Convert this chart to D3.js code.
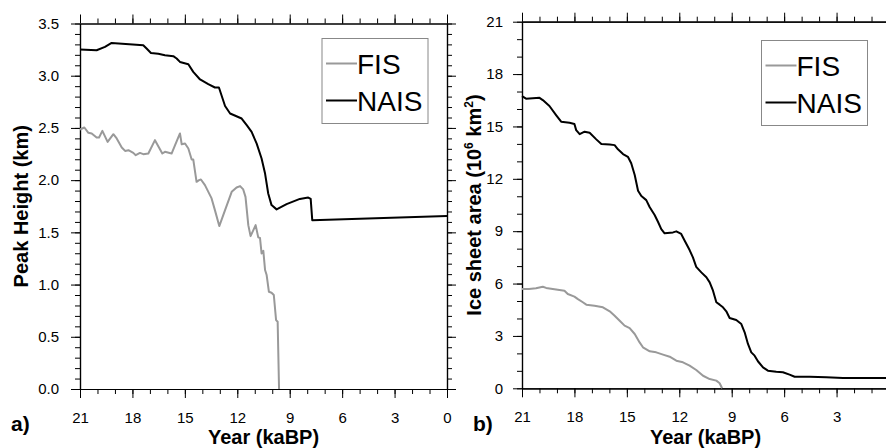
<!DOCTYPE html>
<html>
<head>
<meta charset="utf-8">
<script src="https://cdn.jsdelivr.net/npm/d3@7"></script>
<style>
  body { margin: 0; background: #fff; }
  svg { display: block; font-family: "Liberation Sans", Arial, Helvetica, sans-serif; }
</style>
</head>
<body>
<script>
const width = 886;
const height = 448;

// panel a) peak height (km)
const nisHeightYears = [21, 20.05, 19.57, 19.19, 17.38, 17.19, 16.94, 16.52, 16.14, 15.66, 15.47, 15.28, 14.80, 14.52, 14.13, 13.66, 13.28, 13.05, 12.70, 12.41, 11.75, 11.46, 11.18, 10.89, 10.61, 10.41, 10.23, 10.04, 9.75, 9.18, 8.42, 7.94, 7.80, 7.71, 0];
const naisHeight = [3.25, 3.244, 3.276, 3.314, 3.292, 3.26, 3.218, 3.21, 3.196, 3.187, 3.165, 3.132, 3.11, 3.037, 2.964, 2.919, 2.887, 2.887, 2.71, 2.638, 2.59, 2.526, 2.462, 2.35, 2.207, 2.063, 1.872, 1.761, 1.72, 1.77, 1.82, 1.833, 1.82, 1.617, 1.656];

const fisHeightYears = [21, 20.75, 20.52, 20.33, 20.05, 19.91, 19.72, 19.42, 19.09, 18.90, 18.61, 18.42, 18.23, 17.95, 17.81, 17.57, 17.38, 17.09, 16.71, 16.52, 16.29, 16.14, 15.76, 15.56, 15.28, 15.18, 14.99, 14.80, 14.61, 14.52, 14.33, 14.19, 14.08, 13.85, 13.47, 13.28, 13.03, 12.70, 12.32, 12.04, 11.84, 11.66, 11.53, 11.37, 11.24, 11.08, 10.95, 10.80, 10.70, 10.61, 10.51, 10.41, 10.32, 10.19, 10.04, 9.91, 9.78, 9.69, 9.61];
const fisHeight = [2.485, 2.504, 2.453, 2.447, 2.408, 2.408, 2.472, 2.366, 2.44, 2.399, 2.313, 2.28, 2.287, 2.261, 2.239, 2.261, 2.249, 2.255, 2.383, 2.325, 2.255, 2.271, 2.255, 2.335, 2.447, 2.344, 2.351, 2.303, 2.198, 2.198, 1.984, 2.0, 2.006, 1.952, 1.825, 1.713, 1.56, 1.713, 1.888, 1.93, 1.943, 1.911, 1.84, 1.569, 1.464, 1.522, 1.569, 1.452, 1.446, 1.298, 1.323, 1.139, 1.091, 0.931, 0.922, 0.9, 0.66, 0.644, 0];

// panel b) ice sheet area (10^6 km^2)
const naisAreaYears = [21, 20.77, 20.0, 19.81, 19.43, 19.05, 18.76, 18.28, 18.0, 17.9, 17.7, 17.42, 17.13, 16.75, 16.46, 15.98, 15.70, 15.51, 15.22, 14.94, 14.75, 14.55, 14.36, 14.17, 13.89, 13.69, 13.41, 13.22, 13.03, 12.84, 12.36, 12.17, 11.89, 11.69, 11.41, 11.22, 11.03, 10.74, 10.45, 10.26, 10.07, 9.88, 9.69, 9.50, 9.31, 9.12, 8.93, 8.74, 8.45, 8.26, 8.07, 7.88, 7.69, 7.50, 7.21, 6.93, 6.45, 6.07, 5.69, 5.40, 4.54, 3.59, 2.63, 0];
const naisArea = [16.74, 16.59, 16.64, 16.51, 16.17, 15.65, 15.27, 15.21, 15.14, 14.79, 14.56, 14.70, 14.64, 14.26, 13.99, 13.97, 13.93, 13.69, 13.42, 13.26, 12.89, 12.22, 11.32, 11.01, 10.78, 10.37, 9.93, 9.54, 9.12, 8.88, 8.93, 8.99, 8.84, 8.45, 7.92, 7.50, 6.96, 6.64, 6.36, 6.07, 5.59, 4.93, 4.79, 4.64, 4.41, 4.03, 3.97, 3.91, 3.68, 3.21, 2.54, 2.06, 1.87, 1.55, 1.20, 1.01, 0.95, 0.92, 0.78, 0.66, 0.66, 0.63, 0.59, 0.59];

const fisAreaYears = [21, 20.6, 20.2, 19.81, 19.62, 19.24, 18.57, 18.38, 18.0, 17.8, 17.52, 17.32, 16.85, 16.37, 15.98, 15.7, 15.41, 15.13, 14.84, 14.55, 14.27, 14.08, 13.69, 13.32, 12.93, 12.55, 12.17, 11.79, 11.41, 11.03, 10.64, 10.26, 9.88, 9.69, 9.55];
const fisArea = [5.69, 5.69, 5.73, 5.82, 5.75, 5.69, 5.59, 5.40, 5.25, 5.11, 4.93, 4.79, 4.73, 4.64, 4.41, 4.16, 3.87, 3.59, 3.45, 3.11, 2.63, 2.35, 2.12, 2.06, 1.93, 1.81, 1.58, 1.49, 1.30, 1.05, 0.72, 0.53, 0.44, 0.29, 0];

const seriesNames = ["FIS", "NAIS"];
const xTicks = [21, 18, 15, 12, 9, 6, 3, 0];
const heightTicks = [0, 0.5, 1.0, 1.5, 2.0, 2.5, 3.0, 3.5];
const areaTicks = [0, 3, 6, 9, 12, 15, 18, 21];

const fisColor = "#999999";
const naisColor = "#000000";

const svg = d3.select("body").append("svg")
    .attr("width", width)
    .attr("height", height);

const zip = (xs, ys) => xs.map((t, i) => [t, ys[i]]);

function drawPanel(opts) {
    const x = d3.scaleLinear().domain([21, 0]).range([opts.left, opts.left + 367]);
    const y = d3.scaleLinear().domain(opts.yDomain).range([opts.bottom, opts.top]);
    const g = svg.append("g");

    const styleAxis = (sel, size) => {
        sel.select(".domain").attr("stroke", "#000").attr("stroke-width", 1.2);
        sel.selectAll(".tick line").attr("stroke", "#000").attr("stroke-width", 1);
        sel.selectAll(".tick text").attr("fill", "#000").style("font-size", "15px");
        return sel;
    };

    // minor ticks
    g.append("g").attr("transform", `translate(0,${opts.bottom})`)
        .call(d3.axisBottom(x).tickValues(d3.range(0, 22)).tickSize(5).tickSizeOuter(0).tickFormat(""))
        .call(styleAxis);
    g.append("g").attr("transform", `translate(0,${opts.top})`)
        .call(d3.axisTop(x).tickValues(d3.range(0, 22)).tickSize(5).tickSizeOuter(0).tickFormat(""))
        .call(styleAxis);
    g.append("g").attr("transform", `translate(${opts.left},0)`)
        .call(d3.axisLeft(y).tickValues(opts.yMinor).tickSize(5).tickSizeOuter(0).tickFormat(""))
        .call(styleAxis);
    g.append("g").attr("transform", `translate(${opts.left + 367},0)`)
        .call(d3.axisRight(y).tickValues(opts.yMinor).tickSize(5).tickSizeOuter(0).tickFormat(""))
        .call(styleAxis);

    // major ticks
    g.append("g").attr("transform", `translate(0,${opts.bottom})`)
        .call(d3.axisBottom(x).tickValues(xTicks.filter(d => x(d) < width)).tickSize(9).tickPadding(14).tickSizeOuter(0).tickFormat(d3.format("d")))
        .call(styleAxis);
    g.append("g").attr("transform", `translate(0,${opts.top})`)
        .call(d3.axisTop(x).tickValues(xTicks).tickSize(9).tickSizeOuter(0).tickFormat(""))
        .call(styleAxis);
    g.append("g").attr("transform", `translate(${opts.left},0)`)
        .call(d3.axisLeft(y).tickValues(opts.yTicks).tickSize(9).tickPadding(opts.yPad).tickSizeOuter(0).tickFormat(opts.yFormat))
        .call(styleAxis);
    g.append("g").attr("transform", `translate(${opts.left + 367},0)`)
        .call(d3.axisRight(y).tickValues(opts.yTicks).tickSize(9).tickSizeOuter(0).tickFormat(""))
        .call(styleAxis);

    const line = d3.line().x(d => x(d[0])).y(d => y(d[1]));
    g.append("path").datum(opts.fis)
        .attr("d", line).attr("fill", "none")
        .attr("stroke", fisColor).attr("stroke-width", 2).attr("stroke-linejoin", "round");
    g.append("path").datum(opts.nais)
        .attr("d", line).attr("fill", "none")
        .attr("stroke", naisColor).attr("stroke-width", 2).attr("stroke-linejoin", "round");

    // legend
    const lg = g.append("g").attr("transform", `translate(${opts.legendX},${opts.legendY})`);
    lg.append("rect").attr("x", 0).attr("y", 0).attr("width", 106).attr("height", 85)
        .attr("fill", "#fff").attr("stroke", "#888").attr("stroke-width", 1);
    [fisColor, naisColor].forEach((c, i) => {
        const yy = 25 + i * 37;
        lg.append("line").attr("x1", 4).attr("x2", 35).attr("y1", yy).attr("y2", yy)
            .attr("stroke", c).attr("stroke-width", 2);
        lg.append("text").attr("x", 35).attr("y", yy + 10)
            .style("font-size", "28px").attr("fill", "#000").text(seriesNames[i]);
    });

    // titles
    g.append("text")
        .attr("x", opts.left + 183.5).attr("y", 444)
        .attr("text-anchor", "middle")
        .style("font-size", "20px").style("font-weight", "bold")
        .text("Year (kaBP)");
    const yt = g.append("text")
        .attr("transform", `translate(${opts.titleX},${(opts.top + opts.bottom) / 2}) rotate(-90)`)
        .attr("text-anchor", "middle")
        .style("font-size", "20px").style("font-weight", "bold");
    opts.yTitle(yt);
    g.append("text")
        .attr("x", opts.tagX).attr("y", 431)
        .style("font-size", "21px").style("font-weight", "bold")
        .text(opts.tag);
}

drawPanel({
    left: 80, top: 23.5, bottom: 389,
    yDomain: [0, 3.5], yTicks: heightTicks, yMinor: d3.range(0, 36).map(d => d / 10),
    yFormat: d3.format(".1f"), yPad: 12,
    fis: zip(fisHeightYears, fisHeight),
    nais: zip(nisHeightYears, naisHeight),
    legendX: 322, legendY: 38.5,
    titleX: 28,
    yTitle: t => t.text("Peak Height (km)"),
    tagX: 11, tag: "a)"
});

drawPanel({
    left: 522, top: 21.7, bottom: 388.3,
    yDomain: [0, 21], yTicks: areaTicks, yMinor: d3.range(0, 22),
    yFormat: d3.format("d"), yPad: 10,
    fis: zip(fisAreaYears, fisArea),
    nais: zip(naisAreaYears, naisArea),
    legendX: 761.5, legendY: 40.5,
    titleX: 481,
    yTitle: t => {
        t.append("tspan").text("Ice sheet area (10");
        t.append("tspan").attr("dy", -8).style("font-size", "12px").text("6");
        t.append("tspan").attr("dy", 8).text(" km");
        t.append("tspan").attr("dy", -8).style("font-size", "12px").text("2");
        t.append("tspan").attr("dy", 8).text(")");
    },
    tagX: 473, tag: "b)"
});
</script>
</body>
</html>
